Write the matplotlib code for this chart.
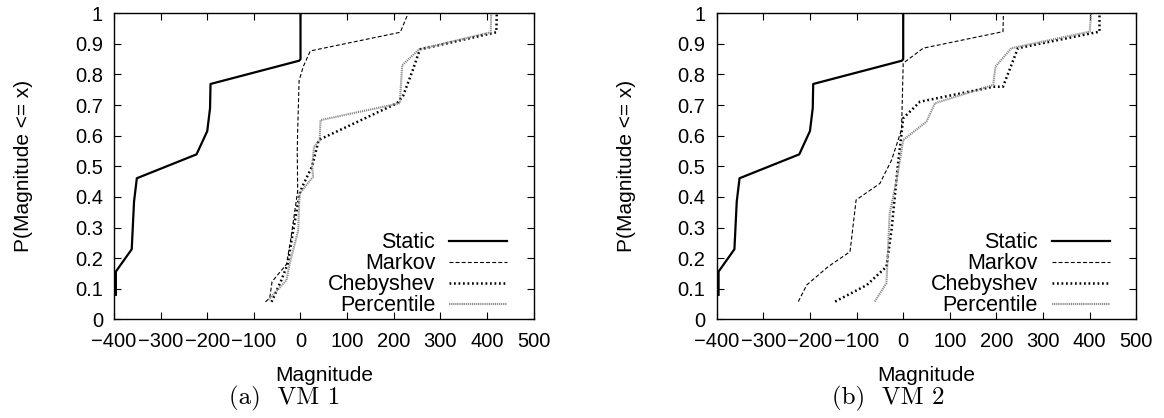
import numpy as np
import matplotlib
matplotlib.use('Agg')
import matplotlib.pyplot as plt

# ------------------------------
# data (CDF of magnitude)
# ------------------------------

# Static is the same in both panels
static_x = [-396, -396, -362, -357, -351, -223, -200, -194, -193, -3, 0, 0]
static_y = [0.08, 0.156, 0.229, 0.385, 0.461, 0.539, 0.615, 0.69, 0.769, 0.845, 0.85, 1.0]

# VM 1
markov1_x = [-75, -66, -61, -30, -21, -6, -7, -6, -3, 6, 21, 214, 231]
markov1_y = [0.057, 0.07, 0.123, 0.18, 0.26, 0.42, 0.55, 0.62, 0.78, 0.826, 0.877, 0.938, 1.0]
cheby1_x = [-62, -41, -27, -19, -2, 4, 25, 39, 207, 220, 241, 256, 420, 421]
cheby1_y = [0.057, 0.128, 0.183, 0.26, 0.41, 0.434, 0.5, 0.586, 0.706, 0.73, 0.815, 0.882, 0.938, 1.0]
perc1_x = [-69, -30, -23, -5, -2, 27, 25, 29, 41, 43, 213, 218, 254, 408, 409]
perc1_y = [0.063, 0.128, 0.183, 0.29, 0.41, 0.466, 0.5, 0.564, 0.586, 0.651, 0.706, 0.83, 0.882, 0.938, 1.0]

# VM 2
markov2_x = [-225, -207, -161, -114, -101, -50, -25, -3.5, 0, 43, 214, 215]
markov2_y = [0.058, 0.112, 0.172, 0.221, 0.39, 0.444, 0.52, 0.62, 0.837, 0.886, 0.94, 1.0]
cheby2_x = [-146, -78, -36, -25, -11, -3.5, 0, 36, 193, 214, 246, 421, 421]
cheby2_y = [0.058, 0.112, 0.172, 0.292, 0.51, 0.608, 0.657, 0.711, 0.76, 0.76, 0.886, 0.94, 1.0]
perc2_x = [-61, -36, -29, -14, 0, 50, 68, 193, 198, 232, 400, 403]
perc2_y = [0.058, 0.118, 0.346, 0.455, 0.586, 0.646, 0.706, 0.766, 0.826, 0.886, 0.94, 1.0]

panels = [
    ('(a)  VM 1', markov1_x, markov1_y, cheby1_x, cheby1_y, perc1_x, perc1_y),
    ('(b)  VM 2', markov2_x, markov2_y, cheby2_x, cheby2_y, perc2_x, perc2_y),
]

xticks = [-400, -300, -200, -100, 0, 100, 200, 300, 400, 500]
yticks = [0, 0.1, 0.2, 0.3, 0.4, 0.5, 0.6, 0.7, 0.8, 0.9, 1]
ytick_labels = ['0', '0.1', '0.2', '0.3', '0.4', '0.5', '0.6', '0.7', '0.8', '0.9', '1']

plt.rcParams['font.family'] = ['Liberation Sans', 'DejaVu Sans']

fig = plt.figure(figsize=(11.64, 4.18), dpi=100)
lefts = [114 / 1164, 716.7 / 1164]
caption_x = [285 / 1164, 888 / 1164]

for i, (cap, mx, my, cx, cy, px, py) in enumerate(panels):
    ax = fig.add_axes([lefts[i], 0.2361, 0.3605, 0.7321])

    ax.plot(static_x, static_y, color='black', lw=1.6, label='Static')
    ax.plot(mx, my, color='black', lw=0.8, ls=(0, (3.5, 2)), label='Markov')
    ax.plot(cx, cy, color='black', lw=1.8, ls=(0, (0.7, 1.1)), label='Chebyshev')
    ax.plot(px, py, color='0.55', lw=1.5, ls=(0, (0.6, 0.4)), label='Percentile')

    ax.set_xlim(-400, 500)
    ax.set_ylim(0, 1)
    ax.set_xticks(xticks)
    ax.set_yticks(yticks)
    ax.set_yticklabels(ytick_labels)
    ax.tick_params(direction='in', top=True, right=True, length=5, width=0.8,
                   labelsize=14.5)
    ax.tick_params(axis='x', pad=9)
    ax.tick_params(axis='y', pad=8)
    for s in ax.spines.values():
        s.set_linewidth(1.0)

    ax.set_xlabel('Magnitude', fontsize=15)
    ax.xaxis.set_label_coords(0.5, -0.153)
    ax.set_ylabel('P(Magnitude <= x)', fontsize=15)
    ax.yaxis.set_label_coords(-0.193, 0.5)

    ax.legend(loc='lower right', bbox_to_anchor=(0.945, 0.0), frameon=False,
              markerfirst=False, fontsize=15.5, handlelength=2.7,
              handletextpad=0.65, labelspacing=0.0, borderpad=0.15,
              borderaxespad=0.0)

    fig.text(caption_x[i], 1 - 398 / 418, cap, ha='center', va='center',
             fontsize=18, family=['cmr10', 'DejaVu Serif'])

fig.savefig('out.png', dpi=100)
